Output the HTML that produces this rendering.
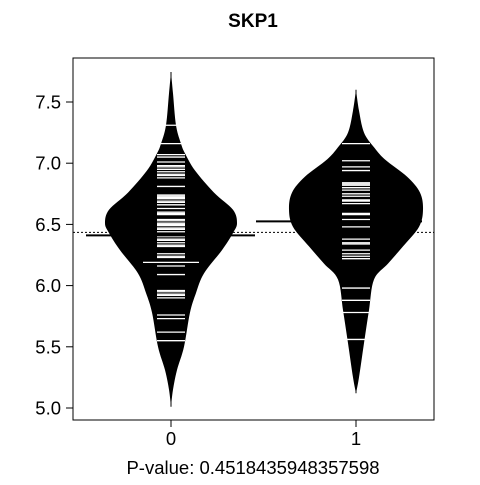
<!DOCTYPE html>
<html><head><meta charset="utf-8"><style>
body{margin:0;background:#fff}
svg text{font-family:"Liberation Sans",Arial,sans-serif}
</style></head><body>
<svg id="c" width="480" height="480" viewBox="0 0 480 480">
<text x="253" y="27" font-size="19" font-weight="bold" text-anchor="middle">SKP1</text>
<rect x="73" y="58" width="361" height="362" fill="none" stroke="#000" stroke-width="1"/>
<g id="plot"></g>
<text x="253" y="474" font-size="18.5" text-anchor="middle">P-value: 0.4518435948357598</text>
</svg>
<script>
const groups = ["0","1"];
const yTicks = [5.0,5.5,6.0,6.5,7.0,7.5];
const yTickLabels = ["5.0","5.5","6.0","6.5","7.0","7.5"];
const overallMean = 6.435;
const groupMeans = [6.41, 6.525];
const dens0Vals = [7.745,7.57,7.31,7.16,7.08,6.94,6.76,6.62,6.51,6.43,6.29,6.10,5.94,5.78,5.50,5.31,5.15,5.01];
const dens0Wid  = [0,2,5,10,14,24,43,62,66,62,51,33,25,19,13,6,2,0];
const dens1Vals = [7.60,7.43,7.25,7.13,7.03,6.89,6.76,6.62,6.48,6.32,6.18,6.05,5.80,5.53,5.25,5.12];
const dens1Wid  = [0,3,8,18,29,51,64,67,63,47,32,18,13,8,3,0];
const obs0 = [7.31,7.16,7.07,7.05,7.01,6.98,6.97,6.95,6.93,6.91,6.90,6.88,6.81,6.74,6.73,6.72,6.71,6.69,6.68,6.66,6.63,6.60,6.59,6.58,6.54,6.53,6.51,6.50,6.49,6.47,6.46,6.44,6.40,6.38,6.37,6.35,6.33,6.32,6.26,6.24,6.23,6.19,6.16,6.09,5.96,5.95,5.93,5.92,5.90,5.76,5.73,5.62,5.55];
const obs0Len = [1,1,1,1,1,1,1,1,1,1,1,1,1,1,1,1,1,1,1,1,1,1,1,1,1,1,1,1,1,1,1,1,1,1,1,1,1,1,1,1,1,2,1,1,1,1,1,1,1,1,1,1,1];
const obs1 = [7.16,7.02,6.97,6.94,6.84,6.83,6.82,6.80,6.78,6.75,6.73,6.70,6.69,6.67,6.59,6.58,6.54,6.48,6.38,6.35,6.34,6.29,6.26,6.24,6.22,5.98,5.88,5.78,5.56];
const obs1Len = [1,1,1,1,1,1,1,1,1,1,1,1,1,1,1,1,1,1,1,1,1,1,1,1,1,1,1,1,1];

const NS="http://www.w3.org/2000/svg";
const plot=document.getElementById('plot');
function y(v){return 408-(v-5)*122.4;}
function x(i){return 171+i*185;}
function mk(t,a,p){const e=document.createElementNS(NS,t);for(const k in a)e.setAttribute(k,a[k]);(p||plot).appendChild(e);return e;}
function smooth(P){
  let d='M'+P[0][0]+','+P[0][1];
  for(let i=0;i<P.length-1;i++){
    const p0=P[Math.max(i-1,0)],p1=P[i],p2=P[i+1],p3=P[Math.min(i+2,P.length-1)];
    const c1=[p1[0]+(p2[0]-p0[0])/6,p1[1]+(p2[1]-p0[1])/6];
    const c2=[p2[0]-(p3[0]-p1[0])/6,p2[1]-(p3[1]-p1[1])/6];
    d+=' C'+c1[0]+','+c1[1]+' '+c2[0]+','+c2[1]+' '+p2[0]+','+p2[1];
  }
  return d;
}

yTicks.forEach((v,i)=>{
  const t=mk('line',{x1:66,x2:73,y1:y(v),y2:y(v),stroke:'#000'});
  
  
  const l=mk('text',{x:61,y:y(v)+6.5,'font-size':18.5,'text-anchor':'end'});
  l.textContent=yTickLabels[i];
  
  
});
groups.forEach((g,i)=>{
  const t=mk('line',{x1:x(i),x2:x(i),y1:420,y2:427,stroke:'#000'});
  
  
  const l=mk('text',{x:x(i),y:445,'font-size':18.5,'text-anchor':'middle'});
  l.textContent=g;
  
  
});

const dVals=[dens0Vals,dens1Vals], dWid=[dens0Wid,dens1Wid], obs=[obs0,obs1], obsLen=[obs0Len,obs1Len];
const om=mk('line',{x1:73,x2:434,y1:y(overallMean),y2:y(overallMean),stroke:'#000','stroke-dasharray':'2,2','stroke-width':1});



groups.forEach((g,i)=>{
  const cx=x(i);
  const vs=dVals[i], ws=dWid[i];
  const right=[],left=[];
  for(let k=0;k<vs.length;k++)right.push([cx+ws[k],y(vs[k])]);
  for(let k=vs.length-1;k>=0;k--)left.push([cx-ws[k],y(vs[k])]);
  const d=smooth(right)+' L'+smooth(left).slice(1)+' Z';
  const tip=mk('line',{x1:cx,x2:cx,y1:y(vs[0]),y2:y(vs[vs.length-1]),stroke:'#000'});
  
  
  const p=mk('path',{d:d,fill:'#000'});
  
  
  obs[i].forEach((v,k)=>{
    const h=14*obsLen[i][k];
    const l=mk('line',{x1:cx-h,x2:cx+h,y1:y(v),y2:y(v),stroke:'#fff','stroke-width':1.3});
    
    
  });
});
const m0=mk('line',{x1:86,x2:255,y1:y(groupMeans[0]),y2:y(groupMeans[0]),stroke:'#000','stroke-width':2});


const m1=mk('line',{x1:256,x2:422,y1:y(groupMeans[1]),y2:y(groupMeans[1]),stroke:'#000','stroke-width':2});


</script>
</body></html>
